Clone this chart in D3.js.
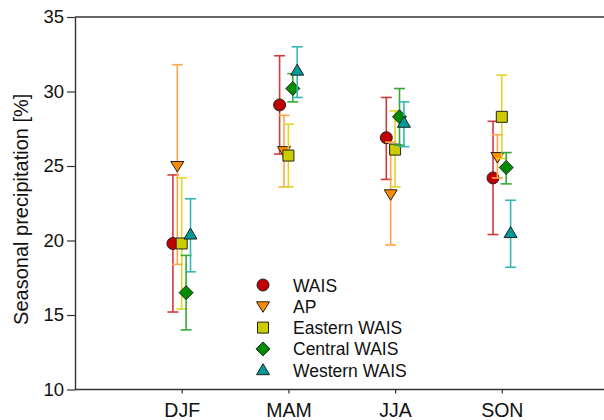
<!DOCTYPE html>
<html>
<head>
<meta charset="utf-8">
<script src="https://cdn.jsdelivr.net/npm/d3@7"></script>
<style>
  html, body { margin: 0; padding: 0; background: #fff; }
  svg { display: block; font-family: "Liberation Sans", Arial, sans-serif; }
</style>
</head>
<body>
<svg id="chart" width="604" height="420"></svg>
<script>
// Seasons on the x axis
const seasons = ["DJF", "MAM", "JJA", "SON"];

// Regions (series)
const regions = ["WAIS", "AP", "Eastern WAIS", "Central WAIS", "Western WAIS"];

// Mean seasonal share of annual precipitation [%], per region, per season
const waisMean    = [19.8, 29.1, 26.9, 24.2];
const apMean      = [25.0, 26.0, 23.1, 25.6];
const eastMean    = [19.8, 25.7, 26.1, 28.3];
const centralMean = [16.5, 30.2, 28.3, 24.9];
const westMean    = [20.4, 31.4, 27.9, 20.5];

// Upper and lower ends of the error bars
const waisHigh    = [24.4, 32.4, 29.6, 28.0];
const waisLow     = [15.2, 25.8, 24.1, 20.4];
const apHigh      = [31.8, 28.4, 26.6, 27.1];
const apLow       = [18.4, 23.6, 19.7, 24.2];
const eastHigh    = [24.2, 27.8, 28.7, 31.1];
const eastLow     = [15.4, 23.6, 23.6, 25.5];
const centralHigh = [19.0, 31.2, 30.2, 25.9];
const centralLow  = [14.0, 29.3, 26.4, 23.8];
const westHigh    = [22.8, 33.0, 29.3, 22.7];
const westLow     = [17.9, 29.6, 26.3, 18.2];

// Y axis ticks
const yTicks = [10, 15, 20, 25, 30, 35];

const means = [waisMean, apMean, eastMean, centralMean, westMean];
const highs = [waisHigh, apHigh, eastHigh, centralHigh, westHigh];
const lows  = [waisLow, apLow, eastLow, centralLow, westLow];

// Marker fills and the lighter error-bar colours
const fills = ["#c00000", "#ff8c00", "#cccc00", "#008c00", "#009999"];
const barColors = ["#cf3a3a", "#ffa64a", "#e3d42a", "#38a838", "#38b4b4"];

// Custom marker shapes for d3.symbol
const symCircle = { draw(ctx) { ctx.moveTo(6, 0); ctx.arc(0, 0, 6, 0, 2 * Math.PI); } };
const symTriDown = { draw(ctx) { ctx.moveTo(-6.5, -4.5); ctx.lineTo(6.5, -4.5); ctx.lineTo(0, 6); ctx.closePath(); } };
const symSquare = { draw(ctx) { ctx.rect(-5.5, -5.5, 11, 11); } };
const symDiamond = { draw(ctx) { ctx.moveTo(0, -7); ctx.lineTo(7, 0); ctx.lineTo(0, 7); ctx.lineTo(-7, 0); ctx.closePath(); } };
const symTriUp = { draw(ctx) { ctx.moveTo(0, -6.5); ctx.lineTo(6.5, 4.5); ctx.lineTo(-6.5, 4.5); ctx.closePath(); } };
const shapes = [symCircle, symTriDown, symSquare, symDiamond, symTriUp];

const svg = d3.select("#chart");
const plotLeft = 75, plotRight = 608.5, plotTop = 17, plotBottom = 389.5;

const x = d3.scaleLinear().domain([0, seasons.length + 1]).range([plotLeft, plotRight]);
const y = d3.scaleLinear().domain([10, 35]).range([plotBottom, plotTop]);
const offset = d3.scaleLinear().domain([0, regions.length - 1]).range([-8.8, 8.8]);

const axisColor = "#333";

// Top edge of the frame
svg.append("line").attr("x1", plotLeft).attr("x2", 604).attr("y1", plotTop).attr("y2", plotTop)
  .attr("stroke", axisColor).attr("stroke-width", 1.6);

// Y axis
const yAxis = svg.append("g").attr("transform", `translate(${plotLeft},0)`)
  .call(d3.axisLeft(y).tickValues(yTicks).tickSize(8).tickPadding(3).tickSizeOuter(0));
yAxis.select(".domain").attr("stroke", axisColor).attr("stroke-width", 1.4);
yAxis.selectAll(".tick line").attr("stroke", axisColor).attr("stroke-width", 1.2);
yAxis.selectAll(".tick text").attr("font-size", 18.5).attr("fill", "#111")
  .attr("font-family", "'Liberation Sans', Arial, sans-serif");

// X axis
const xAxis = svg.append("g").attr("transform", `translate(0,${plotBottom})`)
  .call(d3.axisBottom(x).tickValues(d3.range(1, seasons.length + 1))
    .tickFormat(i => seasons[i - 1]).tickSize(4).tickPadding(10).tickSizeOuter(0));
xAxis.select(".domain").attr("stroke", axisColor).attr("stroke-width", 1.4)
  .attr("d", `M${plotLeft},0H604`);
xAxis.selectAll(".tick line").attr("stroke", axisColor).attr("stroke-width", 1.2);
xAxis.selectAll(".tick text").attr("font-size", 19.5).attr("fill", "#111")
  .attr("font-family", "'Liberation Sans', Arial, sans-serif");

// Y axis title
svg.append("text")
  .attr("transform", `translate(28,${(plotTop + plotBottom) / 2 + 6}) rotate(-90)`)
  .attr("text-anchor", "middle")
  .attr("font-size", 20)
  .attr("fill", "#111")
  .text("Seasonal precipitation [%]");

// Error bars and markers, one region at a time
const capHalf = 5.5;
regions.forEach((name, r) => {
  const g = svg.append("g");
  seasons.forEach((s, i) => {
    const cx = x(i + 1) + offset(r);
    const yh = y(highs[r][i]), yl = y(lows[r][i]);
    g.append("line").attr("x1", cx).attr("x2", cx).attr("y1", yh).attr("y2", yl)
      .attr("stroke", barColors[r]).attr("stroke-width", 1.6);
    [yh, yl].forEach(yy => {
      g.append("line").attr("x1", cx - capHalf).attr("x2", cx + capHalf)
        .attr("y1", yy).attr("y2", yy)
        .attr("stroke", barColors[r]).attr("stroke-width", 1.6);
    });
    g.append("path")
      .attr("d", d3.symbol().type(shapes[r])())
      .attr("transform", `translate(${cx},${y(means[r][i])})`)
      .attr("fill", fills[r]).attr("stroke", "#222").attr("stroke-width", 1);
  });
});

// Legend
const legend = svg.append("g").attr("transform", "translate(263,285)");
regions.forEach((name, r) => {
  const row = legend.append("g").attr("transform", `translate(0,${r * 21.3})`);
  row.append("path").attr("d", d3.symbol().type(shapes[r])())
    .attr("fill", fills[r]).attr("stroke", "#222").attr("stroke-width", 1);
  row.append("text").attr("x", 30).attr("y", 6.5)
    .attr("font-size", 17.5).attr("fill", "#111").text(name);
});
</script>
</body>
</html>
